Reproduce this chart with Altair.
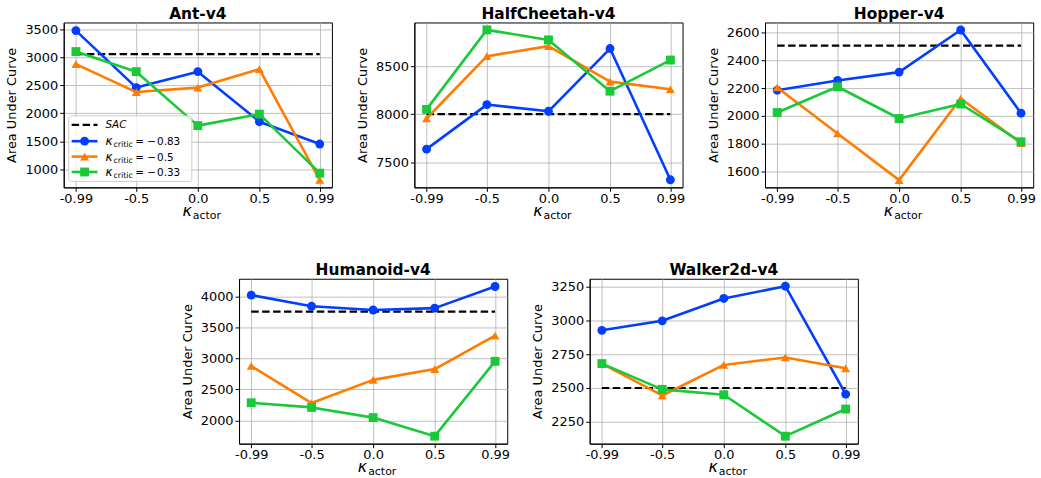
import altair as alt
import pandas as pd

# ---------------- data ----------------
KAPPA_ACTOR = [-0.99, -0.5, 0.0, 0.5, 0.99]
X_TICK_LABELS = ["-0.99", "-0.5", "0.0", "0.5", "0.99"]
SERIES = ["k083", "k05", "k033"]
SERIES_VALUES_TXT = ["= \u2212\u200a0.83", "= \u2212\u200a0.5", "= \u2212\u200a0.33"]
COLORS = ["#023eff", "#ff7c00", "#1ac938"]
SHAPES = ["circle", "triangle-up", "square"]

ENVS = ["Ant-v4", "HalfCheetah-v4", "Hopper-v4", "Humanoid-v4", "Walker2d-v4"]

ANT_K083 = [3480, 2460, 2745, 1850, 1450]
ANT_K05 = [2880, 2380, 2460, 2790, 810]
ANT_K033 = [3105, 2745, 1780, 1985, 930]
ANT_SAC = 3060

HC_K083 = [7635, 8100, 8030, 8685, 7315]
HC_K05 = [7955, 8605, 8710, 8340, 8260]
HC_K033 = [8050, 8880, 8775, 8240, 8565]
HC_SAC = 8000

HOP_K083 = [2185, 2255, 2315, 2617, 2020]
HOP_K05 = [2205, 1875, 1540, 2125, 1805]
HOP_K033 = [2025, 2210, 1982, 2086, 1815]
HOP_SAC = 2505

HUM_K083 = [4025, 3845, 3785, 3815, 4165]
HUM_K05 = [2880, 2280, 2655, 2830, 3370]
HUM_K033 = [2285, 2210, 2045, 1745, 2955]
HUM_SAC = 3760

WAL_K083 = [2925, 2995, 3160, 3250, 2455]
WAL_K05 = [2680, 2445, 2670, 2725, 2645]
WAL_K033 = [2680, 2490, 2450, 2145, 2345]
WAL_SAC = 2500

Y_DOMAINS = {
    "Ant-v4": [675, 3625],
    "HalfCheetah-v4": [7236, 8957],
    "Hopper-v4": [1488, 2671],
    "Humanoid-v4": [1624, 4290],
    "Walker2d-v4": [2090, 3305],
}
Y_TICKS = {
    "Ant-v4": [1000, 1500, 2000, 2500, 3000, 3500],
    "HalfCheetah-v4": [7500, 8000, 8500],
    "Hopper-v4": [1600, 1800, 2000, 2200, 2400, 2600],
    "Humanoid-v4": [2000, 2500, 3000, 3500, 4000],
    "Walker2d-v4": [2250, 2500, 2750, 3000, 3250],
}

DATA = {
    "Ant-v4": ([ANT_K083, ANT_K05, ANT_K033], ANT_SAC),
    "HalfCheetah-v4": ([HC_K083, HC_K05, HC_K033], HC_SAC),
    "Hopper-v4": ([HOP_K083, HOP_K05, HOP_K033], HOP_SAC),
    "Humanoid-v4": ([HUM_K083, HUM_K05, HUM_K033], HUM_SAC),
    "Walker2d-v4": ([WAL_K083, WAL_K05, WAL_K033], WAL_SAC),
}

# ---------------- style ----------------
W, H = 270, 166
FONT = "DejaVu Sans"

label_expr = " : ".join(
    f"datum.value == {v} ? '{t}'" for v, t in zip(KAPPA_ACTOR, X_TICK_LABELS)
) + " : ''"

ONE = pd.DataFrame({"d": [0]})


def panel(env, legend=False):
    series_vals, sac = DATA[env]
    xscale = alt.Scale(domain=[-1.089, 1.089], nice=False, zero=False)
    yscale = alt.Scale(domain=Y_DOMAINS[env], nice=False, zero=False)
    xaxis = alt.Axis(values=KAPPA_ACTOR, labelExpr=label_expr, title=None,
                     labelFlush=False, labelPadding=1)
    yaxis = alt.Axis(values=Y_TICKS[env], title="Area Under Curve", format="d")

    sac_df = pd.DataFrame({"x": [KAPPA_ACTOR[0]], "x2": [KAPPA_ACTOR[-1]], "y": [sac]})
    layers = [
        alt.Chart(sac_df).mark_rule(color="black", strokeDash=[7.5, 3.5], strokeWidth=2.2).encode(
            x=alt.X("x:Q", scale=xscale, axis=xaxis),
            x2="x2:Q",
            y=alt.Y("y:Q", scale=yscale, axis=yaxis),
        )
    ]
    for s, vals, col, shp in zip(SERIES, series_vals, COLORS, SHAPES):
        df = pd.DataFrame({"x": KAPPA_ACTOR, "y": vals, "series": s})
        base = alt.Chart(df).encode(
            x=alt.X("x:Q", scale=xscale, axis=xaxis),
            y=alt.Y("y:Q", scale=yscale, axis=yaxis),
        )
        layers.append(base.mark_line(color=col, strokeWidth=2.6, strokeJoin="round"))
        layers.append(base.mark_point(color=col, fill=col, filled=True, shape=shp,
                                      size=80, opacity=1))

    # x-axis title  (kappa with subscript "actor")
    layers.append(alt.Chart(ONE).mark_text(text="\u03ba", font=FONT, fontSize=16, fontStyle="italic",
                                           align="right", baseline="alphabetic", color="black")
                  .encode(x=alt.value(W / 2 - 6), y=alt.value(H + 29)))
    layers.append(alt.Chart(ONE).mark_text(text="actor", font=FONT, fontSize=11,
                                           align="left", baseline="alphabetic", color="black")
                  .encode(x=alt.value(W / 2 - 5), y=alt.value(H + 32)))

    if legend:
        layers.append(alt.Chart(ONE).mark_rect(fill="white", fillOpacity=0.8, stroke="#cccccc",
                                               strokeWidth=1, cornerRadius=3)
                      .encode(x=alt.value(5), x2=alt.value(129), y=alt.value(94), y2=alt.value(160)))
        ys = [103, 119.5, 135, 150.5]
        layers.append(alt.Chart(ONE).mark_rule(color="black", strokeDash=[7.5, 3.5], strokeWidth=2.2)
                      .encode(x=alt.value(8), x2=alt.value(34), y=alt.value(ys[0])))
        layers.append(alt.Chart(ONE).mark_text(text="SAC", font=FONT, fontSize=10.5, fontStyle="italic",
                                               align="left", baseline="middle", color="black")
                      .encode(x=alt.value(42), y=alt.value(ys[0])))
        for yy, col, shp, txt in zip(ys[1:], COLORS, SHAPES, SERIES_VALUES_TXT):
            layers.append(alt.Chart(ONE).mark_rule(color=col, strokeWidth=2.6)
                          .encode(x=alt.value(8), x2=alt.value(34), y=alt.value(yy)))
            layers.append(alt.Chart(ONE).mark_point(color=col, fill=col, filled=True, shape=shp,
                                                    size=80, opacity=1)
                          .encode(x=alt.value(21), y=alt.value(yy)))
            layers.append(alt.Chart(ONE).mark_text(text="\u03ba", font=FONT, fontSize=12, fontStyle="italic",
                                                   align="left", baseline="alphabetic", color="black")
                          .encode(x=alt.value(42), y=alt.value(yy + 4)))
            layers.append(alt.Chart(ONE).mark_text(text="critic", font=FONT, fontSize=8,
                                                   align="left", baseline="alphabetic", color="black")
                          .encode(x=alt.value(50), y=alt.value(yy + 6)))
            layers.append(alt.Chart(ONE).mark_text(text=txt, font=FONT, fontSize=10.5,
                                                   align="left", baseline="alphabetic", color="black")
                          .encode(x=alt.value(72), y=alt.value(yy + 4)))

    return alt.layer(*layers).properties(
        width=W, height=H,
        title=alt.TitleParams(env, font=FONT, fontSize=15.5, fontWeight="bold", color="black",
                              anchor="middle", offset=0),
    )


top = alt.hconcat(panel("Ant-v4", legend=True), panel("HalfCheetah-v4"), panel("Hopper-v4"),
                  spacing=21)
bottom = alt.hconcat(panel("Humanoid-v4"), panel("Walker2d-v4"), spacing=21)

chart = alt.vconcat(top, bottom, spacing=41, center=True).properties(
    background="white", padding=5
).configure_view(
    stroke="black", strokeWidth=1
).configure_axis(
    labelFont=FONT, labelFontSize=13, labelColor="black",
    titleFont=FONT, titleFontSize=13, titleFontWeight="normal", titleColor="black",
    tickColor="black", tickSize=4, tickWidth=1,
    domainColor="black", gridColor="#b0b0b0", gridWidth=0.8, labelPadding=2,
    titlePadding=6,
)

chart.save("out.html", embed_options={"renderer": "svg", "actions": False})
